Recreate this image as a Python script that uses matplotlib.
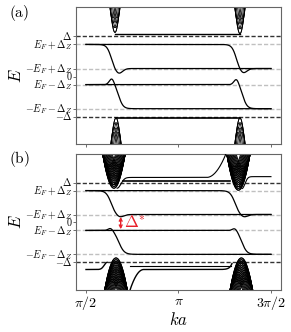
import numpy as np
import matplotlib.pyplot as plt
from matplotlib.transforms import blended_transform_factory, ScaledTranslation

plt.rcParams['mathtext.fontset'] = 'cm'
plt.rcParams['font.family'] = 'serif'

# energy levels (units of Delta)
DELTA = 1.0
DZ = 0.5
EF = 0.3
level_vals = [DELTA, EF + DZ, -EF + DZ, 0.0, EF - DZ, -EF - DZ, -DELTA]
level_labels = [r'$\Delta$', r'$E_F+\Delta_Z$', r'$-E_F+\Delta_Z$', r'$0$',
                r'$E_F-\Delta_Z$', r'$-E_F-\Delta_Z$', r'$-\Delta$']
xtick_vals = [np.pi / 2, np.pi, 3 * np.pi / 2]
xtick_labels = [r'$\pi/2$', r'$\pi$', r'$3\pi/2$']

# edge-state transitions: (center k, width, dip/bump size, offset)
upper_a = [(1.995, 0.075, 0.13, 0.13), (4.118, 0.075, 0.12, 0.12)]
lower_a = [(2.13, 0.075, 0.16, -0.12), (4.237, 0.075, 0.15, -0.11)]
upper_b = [(1.995, 0.085, 0.07, 0.15), (4.10, 0.085, 0.07, 0.15)]
lower_b = [(2.13, 0.09, 0.07, -0.14), (4.22, 0.085, 0.07, -0.12)]

# bulk cones: (k0, tip energy, curvature, branches, energy step, k shift, direction)
cones_a = [(2.063, 1.10, 100, 4, 0.12, 0.012, 1), (4.186, 1.07, 100, 4, 0.12, 0.012, 1),
           (2.080, -1.03, 100, 4, 0.12, 0.012, -1), (4.186, -1.03, 100, 4, 0.12, 0.012, -1)]
cones_b = [(2.045, 0.86, 24, 14, 0.045, 0.006, 1), (4.16, 0.81, 24, 14, 0.045, 0.006, 1),
           (2.08, -0.89, 22, 14, 0.045, 0.006, -1), (4.21, -0.89, 22, 14, 0.045, 0.006, -1)]

YLIM = (-1.69, 1.725)
XLIM = (1.40, 4.885)


def step(k, kc, w):
    return 0.5 * (1 + np.tanh((k - kc) / w))


def draw_levels(ax):
    for v in level_vals:
        if v == 0:
            continue
        col = '#333333' if abs(v) == DELTA else '#c0c0c0'
        ax.axhline(v, color=col, ls=(0, (3, 1.5)), lw=1.0, zorder=1)


def draw_edges(ax, upper, lower):
    k = np.linspace(np.pi / 2, 3 * np.pi / 2, 2000)
    for kc, w, d, off in upper:
        hi, lo = EF + DZ, -EF + DZ
        e = hi + (lo - hi) * step(k, kc, w) - d * np.exp(-((k - kc - off) / 0.09) ** 2)
        ax.plot(k, e, color='k', lw=0.9, zorder=3)
    for kc, w, d, off in lower:
        hi, lo = EF - DZ, -EF - DZ
        e = hi + (lo - hi) * step(k, kc, w) + d * np.exp(-((k - kc - off) / 0.06) ** 2)
        ax.plot(k, e, color='k', lw=0.9, zorder=3)


def draw_cones(ax, cones, lw):
    for k0, tip, A, n, s, dk, sgn in cones:
        k = np.linspace(k0 - 0.5, k0 + 0.5, 1500)
        for j in range(n):
            for sh in (-1, 1):
                e = tip + sgn * (j * s + A * (k - k0 + sh * dk * j) ** 2)
                ax.plot(k, e, color='k', lw=lw, zorder=2)


def style(ax, labels=True):
    ax.set_xlim(*XLIM)
    ax.set_ylim(*YLIM)
    ax.set_yticks(level_vals)
    ax.set_yticklabels([])
    # tick labels placed by hand so the main letters sit on the level
    tr = blended_transform_factory(ax.transAxes, ax.transData) + \
        ScaledTranslation(0, -2.6 / 72, fig.dpi_scale_trans)
    for v, lab in zip(level_vals, level_labels):
        ax.text(-0.018, v, lab, transform=tr, ha='right', va='baseline', fontsize=7.2)
    ax.set_xticks(xtick_vals)
    ax.tick_params(length=2, width=0.6, color='#555555', pad=1)
    if labels:
        ax.set_xticklabels(xtick_labels, fontsize=10)
    else:
        ax.set_xticklabels([])
    for sp in ax.spines.values():
        sp.set_color('#666666')
        sp.set_linewidth(0.8)
    ax.text(-0.29, 0.5, r'$E$', transform=ax.transAxes, rotation=90,
            fontsize=12, ha='center', va='center')


fig = plt.figure(figsize=(2.91, 3.32), dpi=100)
ax_a = fig.add_axes([0.261, 0.565, 0.705, 0.413])
ax_b = fig.add_axes([0.261, 0.127, 0.705, 0.410])

# panel (a)
draw_levels(ax_a)
draw_edges(ax_a, upper_a, lower_a)
draw_cones(ax_a, cones_a, 0.6)
kk = np.linspace(2.063, 4.186, 300)
ax_a.plot(kk, np.full_like(kk, 1.07), color='k', lw=1.0, zorder=3)
kk = np.linspace(2.08, 4.186, 300)
ax_a.plot(kk, np.full_like(kk, -1.03), color='k', lw=1.2, zorder=3)
style(ax_a, labels=False)

# panel (b)
draw_levels(ax_b)
draw_edges(ax_b, upper_b, lower_b)
draw_cones(ax_b, cones_b, 0.7)
# in-gap states near +/- Delta
kk = np.linspace(2.2, 4.02, 300)
ax_b.plot(kk, np.full_like(kk, 1.03), color='k', lw=1.2, zorder=3)
kk = np.linspace(2.10, 3.97, 400)
eb = 1.13 - 0.27 * np.exp(-((kk - 2.10) / 0.09) ** 2) + 0.6 * (np.clip(kk - 3.62, 0, None) / 0.33) ** 2
ax_b.plot(kk, eb, color='k', lw=0.8, zorder=3)
kk = np.linspace(4.22, 3 * np.pi / 2, 300)
ax_b.plot(kk, 1.15 - 0.3 * np.exp(-((kk - 4.22) / 0.07) ** 2), color='k', lw=0.8, zorder=3)
kk = np.linspace(np.pi / 2, 1.93, 200)
ax_b.plot(kk, -1.18 + 0.18 * np.exp(-((kk - 1.93) / 0.07) ** 2), color='k', lw=1.0, zorder=3)
kk = np.linspace(2.28, 4.05, 400)
ed = -1.18 - 0.6 * (np.clip(2.55 - kk, 0, None) / 0.25) ** 2 + 0.15 * np.exp((kk - 4.05) / 0.04)
ax_b.plot(kk, ed, color='k', lw=1.0, zorder=3)
kk = np.linspace(2.32, 4.04, 300)
ax_b.plot(kk, np.full_like(kk, -1.08), color='k', lw=0.8, zorder=3)
style(ax_b, labels=True)
ax_b.set_xlabel(r'$ka$', fontsize=12, labelpad=0)

# Delta* gap annotation
ax_b.annotate('', xy=(2.16, 0.14), xytext=(2.16, -0.17),
              arrowprops=dict(arrowstyle='<->', color='#e8202a', lw=1.0,
                              mutation_scale=5, shrinkA=0, shrinkB=0))
ax_b.text(2.22, -0.02, r'$\Delta^{*}$', color='#e8202a', fontsize=12,
          ha='left', va='center')

fig.text(0.03, 0.962, r'$\mathrm{(a)}$', fontsize=11, va='center')
fig.text(0.03, 0.522, r'$\mathrm{(b)}$', fontsize=11, va='center')

fig.savefig('out.png', dpi=100)
